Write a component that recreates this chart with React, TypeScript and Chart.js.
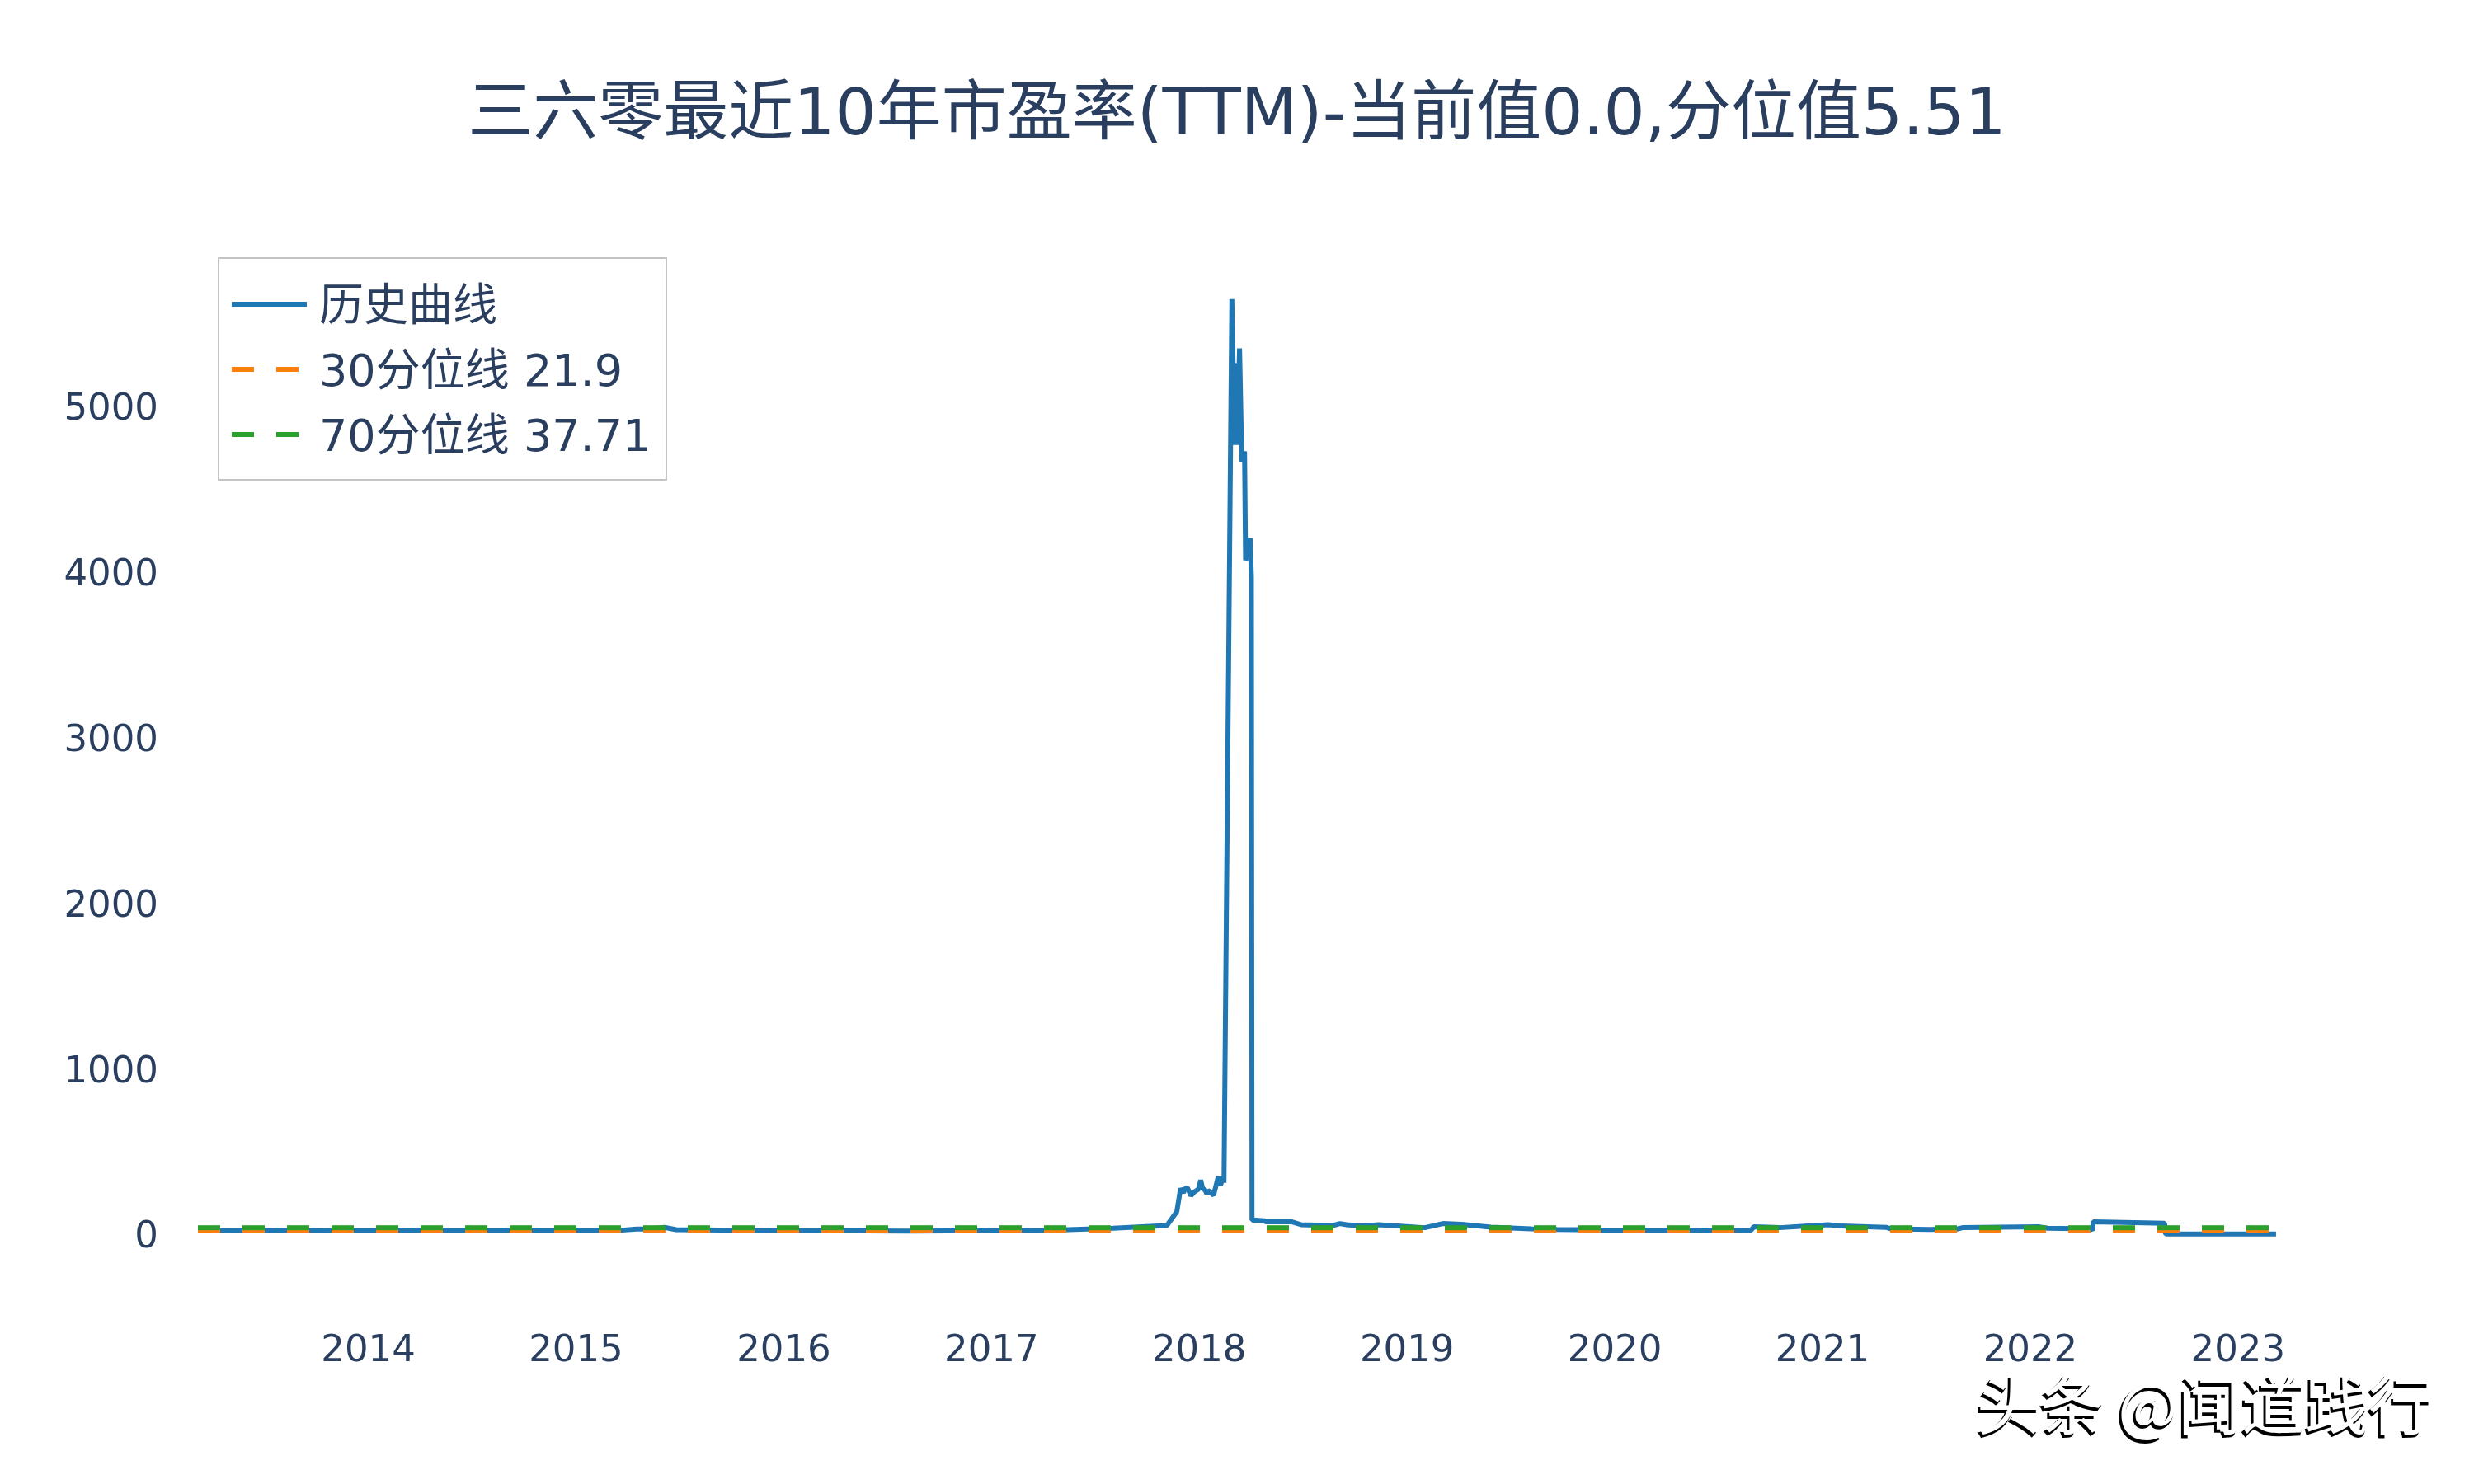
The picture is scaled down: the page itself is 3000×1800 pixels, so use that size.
import { Chart, registerables } from "chart.js";
import { useEffect, useRef } from "react";

Chart.register(...registerables);

const TEXT_COLOR = "#2a3f5f";
const FONT = '"DejaVu Sans", "Noto Sans CJK SC", sans-serif';

const titleText = "三六零最近10年市盈率(TTM)-当前值0.0,分位值5.51";
const watermark = "头条 @闻道践行";

const yearTicks = [2014, 2015, 2016, 2017, 2018, 2019, 2020, 2021, 2022, 2023];
const peTicks = [0, 1000, 2000, 3000, 4000, 5000];

// dates are decimal years
const dates = [
  2013.18, 2013.815, 2014.807, 2015.22, 2015.292, 2015.351, 2015.426, 2015.482,
  2015.8, 2016.197, 2016.593, 2016.99, 2017.308, 2017.586, 2017.844, 2017.892,
  2017.91, 2017.923, 2017.933, 2017.943, 2017.96, 2017.976, 2017.996, 2018.007,
  2018.016, 2018.029, 2018.036, 2018.042, 2018.069, 2018.091, 2018.102, 2018.115,
  2018.119, 2018.157, 2018.17, 2018.174, 2018.182, 2018.194, 2018.205, 2018.218,
  2018.223, 2018.245, 2018.251, 2018.254, 2018.313, 2018.321, 2018.447, 2018.491,
  2018.642, 2018.677, 2018.71, 2018.785, 2018.864, 2019.086, 2019.173, 2019.262,
  2019.404, 2019.598, 2019.722, 2019.821, 2019.952, 2020.397, 2020.654, 2020.67,
  2020.794, 2020.96, 2021.028, 2021.091, 2021.306, 2021.33, 2021.516, 2021.647,
  2021.674, 2022.044, 2022.084, 2022.291, 2022.299, 2022.303, 2022.647, 2022.651,
  2023.183,
];
const peValues = [
  20, 22, 23, 23, 30, 30, 40, 26,
  22, 20, 18, 20, 24, 35, 51, 134,
  275, 250, 275, 279, 231, 254, 270, 325,
  275, 264, 244, 264, 234, 344, 294, 344,
  309, 5647, 4766, 5260, 4766, 5349, 4666, 4726,
  4069, 4203, 3969, 85, 80, 73, 73, 56,
  51, 63, 56, 48, 56, 38, 63, 58,
  41, 31, 28, 26, 23, 23, 21, 43,
  38, 51, 56, 48, 40, 31, 28, 30,
  38, 43, 35, 31, 21, 73, 65, 0,
  0,
];

const lineDates = [2013.18, 2023.183];
const p30Values = [21.9, 21.9];
const p70Values = [37.71, 37.71];

const toPoints = (xs: number[], ys: number[]) => xs.map((x, i) => ({ x, y: ys[i] }));

// plotly style legend box inside the plot, plus the watermark
const overlayPlugin = {
  id: "overlay",
  afterDraw(chart: Chart) {
    const ctx = chart.ctx;
    ctx.save();

    ctx.fillStyle = "#ffffff";
    ctx.strokeStyle = "#c4c4c4";
    ctx.lineWidth = 2;
    ctx.setLineDash([]);
    ctx.fillRect(265, 313, 543, 269);
    ctx.strokeRect(265, 313, 543, 269);

    ctx.font = `54px ${FONT}`;
    ctx.textAlign = "left";
    ctx.textBaseline = "middle";
    chart.data.datasets.forEach((ds: any, i: number) => {
      const y = 369 + i * 79;
      ctx.strokeStyle = ds.borderColor;
      ctx.lineWidth = 6;
      ctx.setLineDash(ds.borderDash || []);
      ctx.beginPath();
      ctx.moveTo(281, y);
      ctx.lineTo(372, y);
      ctx.stroke();
      ctx.fillStyle = TEXT_COLOR;
      ctx.fillText(ds.label, 387, y + 6);
    });

    ctx.setLineDash([]);
    ctx.font = `77px "Noto Sans CJK SC", ${FONT}`;
    ctx.fillStyle = "#000000";
    ctx.strokeStyle = "#000000";
    ctx.lineWidth = 2;
    ctx.strokeText(watermark, 2395, 1708);
    ctx.fillText(watermark, 2395, 1708);
    ctx.fillStyle = "#ffffff";
    ctx.fillText(watermark, 2397, 1705);
    ctx.restore();
  },
};

export default function App() {
  const chartRef = useRef<HTMLCanvasElement>(null);

  useEffect(() => {
    if (!chartRef.current) return;

    const chart = new Chart(chartRef.current, {
      type: "line",
      data: {
        datasets: [
          {
            label: "历史曲线",
            data: toPoints(dates, peValues),
            borderColor: "#1f77b4",
            borderWidth: 6,
            borderJoinStyle: "bevel",
            pointRadius: 0,
            order: 3,
          },
          {
            label: "30分位线 21.9",
            data: toPoints(lineDates, p30Values),
            borderColor: "#ff7f0e",
            borderWidth: 6,
            borderDash: [27, 27],
            pointRadius: 0,
            order: 2,
          },
          {
            label: "70分位线 37.71",
            data: toPoints(lineDates, p70Values),
            borderColor: "#2ca02c",
            borderWidth: 6,
            borderDash: [27, 27],
            pointRadius: 0,
            order: 1,
          },
        ],
      },
      options: {
        responsive: false,
        devicePixelRatio: 1,
        animation: false,
        clip: false,
        layout: { padding: 0 },
        plugins: {
          legend: { display: false },
          tooltip: { enabled: false },
          title: {
            display: true,
            text: titleText,
            color: TEXT_COLOR,
            font: { family: FONT, size: 79, weight: "normal" },
            padding: { top: 95, bottom: 102 },
          },
        },
        scales: {
          x: {
            type: "linear",
            // the axis runs on to the right edge of the page so the title centres on it
            min: 2013.18,
            max: 2024.136,
            grid: { display: false },
            border: { display: false },
            afterBuildTicks: (scale: any) => {
              scale.ticks = yearTicks.map((value) => ({ value }));
            },
            afterFit: (scale: any) => {
              scale.height = 243;
            },
            ticks: {
              color: TEXT_COLOR,
              font: { family: FONT, size: 45 },
              padding: 47,
              autoSkip: false,
              maxRotation: 0,
              callback: (v: any) => String(v),
            },
          },
          y: {
            type: "linear",
            min: -300,
            max: 6000,
            grid: { display: false },
            border: { display: false },
            afterBuildTicks: (scale: any) => {
              scale.ticks = peTicks.map((value) => ({ value }));
            },
            afterFit: (scale: any) => {
              scale.width = 240;
            },
            ticks: {
              color: TEXT_COLOR,
              font: { family: FONT, size: 45 },
              padding: 40,
              labelOffset: 5,
              callback: (v: any) => String(v),
            },
          },
        },
      },
      plugins: [overlayPlugin],
    });

    return () => chart.destroy();
  }, []);

  return (
    <div style={{ position: "absolute", left: 0, top: 0, width: 3000, height: 1800, background: "#fff" }}>
      <canvas ref={chartRef} width={3000} height={1800} style={{ display: "block" }}></canvas>
    </div>
  );
}
